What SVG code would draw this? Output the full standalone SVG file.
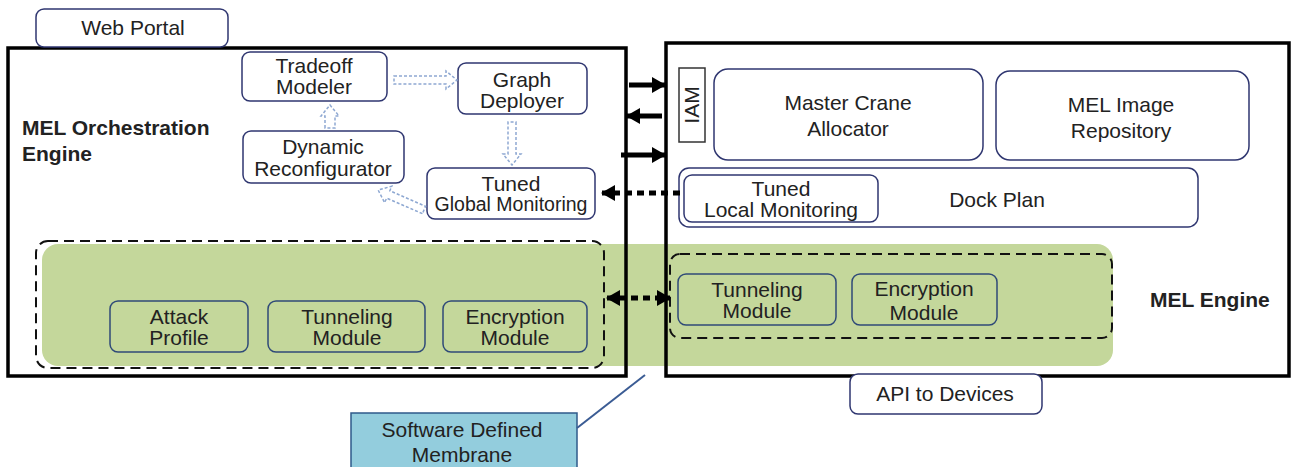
<svg xmlns="http://www.w3.org/2000/svg" width="1294" height="467" viewBox="0 0 1294 467">
<defs>
<style>
text{font-family:"Liberation Sans",Arial,sans-serif;fill:#222;text-anchor:middle;font-size:21px}
.b{font-weight:bold;text-anchor:start;font-size:21px}
.node{fill:#fff;stroke:#2f3670;stroke-width:1.5}
.gnode{fill:#c4d79b;stroke:#2f4a78;stroke-width:1.5}
.big{fill:none;stroke:#000;stroke-width:3.5}
.dash{fill:none;stroke:#111;stroke-width:2;stroke-dasharray:10,6}
.hollow{fill:#fff;stroke:#8ea8d2;stroke-width:1.5;stroke-dasharray:3,2}
.solid{stroke:#000;stroke-width:5;fill:none}
.dot{stroke:#000;stroke-width:5;fill:none;stroke-dasharray:7,5}
</style>
<marker id="ah" viewBox="0 0 14 16" refX="13" refY="8" markerWidth="14" markerHeight="16" markerUnits="userSpaceOnUse" orient="auto-start-reverse">
<path d="M0,0 L14,8 L0,16 Z" fill="#000"/>
</marker>
</defs>
<rect width="1294" height="467" fill="#fff"/>

<g id="membrane-band">
<rect x="42" y="244" width="1071" height="122" rx="16" fill="#c4d79b"/>
</g>

<g id="orchestration-engine">
<rect class="big" x="8" y="48" width="618" height="328"/>
<text class="b" x="22" y="135">MEL Orchestration</text>
<text class="b" x="22" y="161">Engine</text>
</g>

<g id="mel-engine">
<rect class="big" x="666" y="43" width="623" height="333"/>
<text class="b" x="1150" y="307">MEL Engine</text>
</g>

<g id="web-portal">
<rect class="node" x="36" y="9" width="192" height="38" rx="8"/>
<text x="133" y="35">Web Portal</text>
</g>

<g id="tradeoff-modeler">
<rect class="node" x="242" y="52" width="145" height="49" rx="8"/>
<text x="314" y="73">Tradeoff</text>
<text x="314" y="94">Modeler</text>
</g>

<g id="graph-deployer">
<rect class="node" x="458" y="63" width="129" height="51" rx="8"/>
<text x="522" y="87">Graph</text>
<text x="522" y="108">Deployer</text>
</g>

<g id="dynamic-reconfigurator">
<rect class="node" x="243" y="131" width="161" height="52" rx="8"/>
<text x="323" y="154">Dynamic</text>
<text x="323" y="176">Reconfigurator</text>
</g>

<g id="tuned-global-monitoring">
<rect class="node" x="427" y="168" width="168" height="51" rx="8"/>
<text x="511" y="191">Tuned</text>
<text x="511" y="211" style="font-size:19.5px">Global Monitoring</text>
</g>

<g id="iam">
<rect x="679" y="68" width="26" height="74" fill="#fff" stroke="#333" stroke-width="1.5"/>
<text x="0" y="0" transform="translate(699,105) rotate(-90)">IAM</text>
</g>

<g id="master-crane-allocator">
<rect class="node" x="714" y="69" width="269" height="91" rx="14"/>
<text x="848" y="110">Master Crane</text>
<text x="848" y="136">Allocator</text>
</g>

<g id="mel-image-repository">
<rect class="node" x="996" y="71" width="253" height="89" rx="14"/>
<text x="1121" y="112">MEL Image</text>
<text x="1121" y="138">Repository</text>
</g>

<g id="dock-plan">
<rect class="node" x="679" y="168" width="519" height="59" rx="10"/>
<text x="997" y="207">Dock Plan</text>
</g>

<g id="tuned-local-monitoring">
<rect class="node" x="684" y="175" width="194" height="47" rx="8"/>
<text x="781" y="196">Tuned</text>
<text x="781" y="217">Local Monitoring</text>
</g>

<g id="orchestration-membrane">
<rect class="dash" x="36" y="241" width="568" height="127" rx="12"/>
</g>

<g id="attack-profile">
<rect class="gnode" x="110" y="301" width="138" height="51" rx="8"/>
<text x="179" y="324">Attack</text>
<text x="179" y="345">Profile</text>
</g>

<g id="tunneling-module-left">
<rect class="gnode" x="268" y="301" width="157" height="51" rx="8"/>
<text x="347" y="324">Tunneling</text>
<text x="347" y="345">Module</text>
</g>

<g id="encryption-module-left">
<rect class="gnode" x="443" y="301" width="144" height="51" rx="8"/>
<text x="515" y="324">Encryption</text>
<text x="515" y="345">Module</text>
</g>

<g id="engine-membrane">
<rect class="dash" x="670" y="254" width="442" height="84" rx="10"/>
</g>

<g id="tunneling-module-right">
<rect class="gnode" x="678" y="274" width="158" height="51" rx="8"/>
<text x="757" y="297">Tunneling</text>
<text x="757" y="318">Module</text>
</g>

<g id="encryption-module-right">
<rect class="gnode" x="852" y="274" width="145" height="51" rx="8"/>
<text x="924" y="296">Encryption</text>
<text x="924" y="320">Module</text>
</g>

<g id="api-to-devices">
<rect class="node" x="850" y="374" width="192" height="40" rx="8"/>
<text x="945" y="401">API to Devices</text>
</g>

<g id="software-defined-membrane">
<rect x="351" y="413" width="226" height="60" fill="#93cddd" stroke="#2f5a8a" stroke-width="1.5"/>
<text x="462" y="437">Software Defined</text>
<text x="462" y="462">Membrane</text>
</g>

<g id="connectors">
<path class="hollow" transform="translate(394,80)" d="M0,-4 H52 V-9 L63,0 L52,9 V4 H0 Z"/>
<path class="hollow" transform="translate(512,122) rotate(90)" d="M0,-4 H32 V-9 L43,0 L32,9 V4 H0 Z"/>
<path class="hollow" transform="translate(330,128) rotate(-90)" d="M0,-5 H12 V-9 L23,0 L12,9 V5 H0 Z"/>
<path class="hollow" transform="translate(424,210) rotate(203.5)" d="M0,-4 H39 V-9 L50,0 L39,9 V4 H0 Z"/>
<path class="solid" d="M629,85 H665" marker-end="url(#ah)"/>
<path class="solid" d="M662,116 H627" marker-end="url(#ah)"/>
<path class="solid" d="M621,155 H665" marker-end="url(#ah)"/>
<path class="dot" d="M680,193 H602" marker-end="url(#ah)"/>
<path class="dot" d="M607,298 H670" marker-start="url(#ah)" marker-end="url(#ah)"/>
<path d="M577,428 L645,375" stroke="#3b5c94" stroke-width="2" fill="none"/>
</g>
</svg>
